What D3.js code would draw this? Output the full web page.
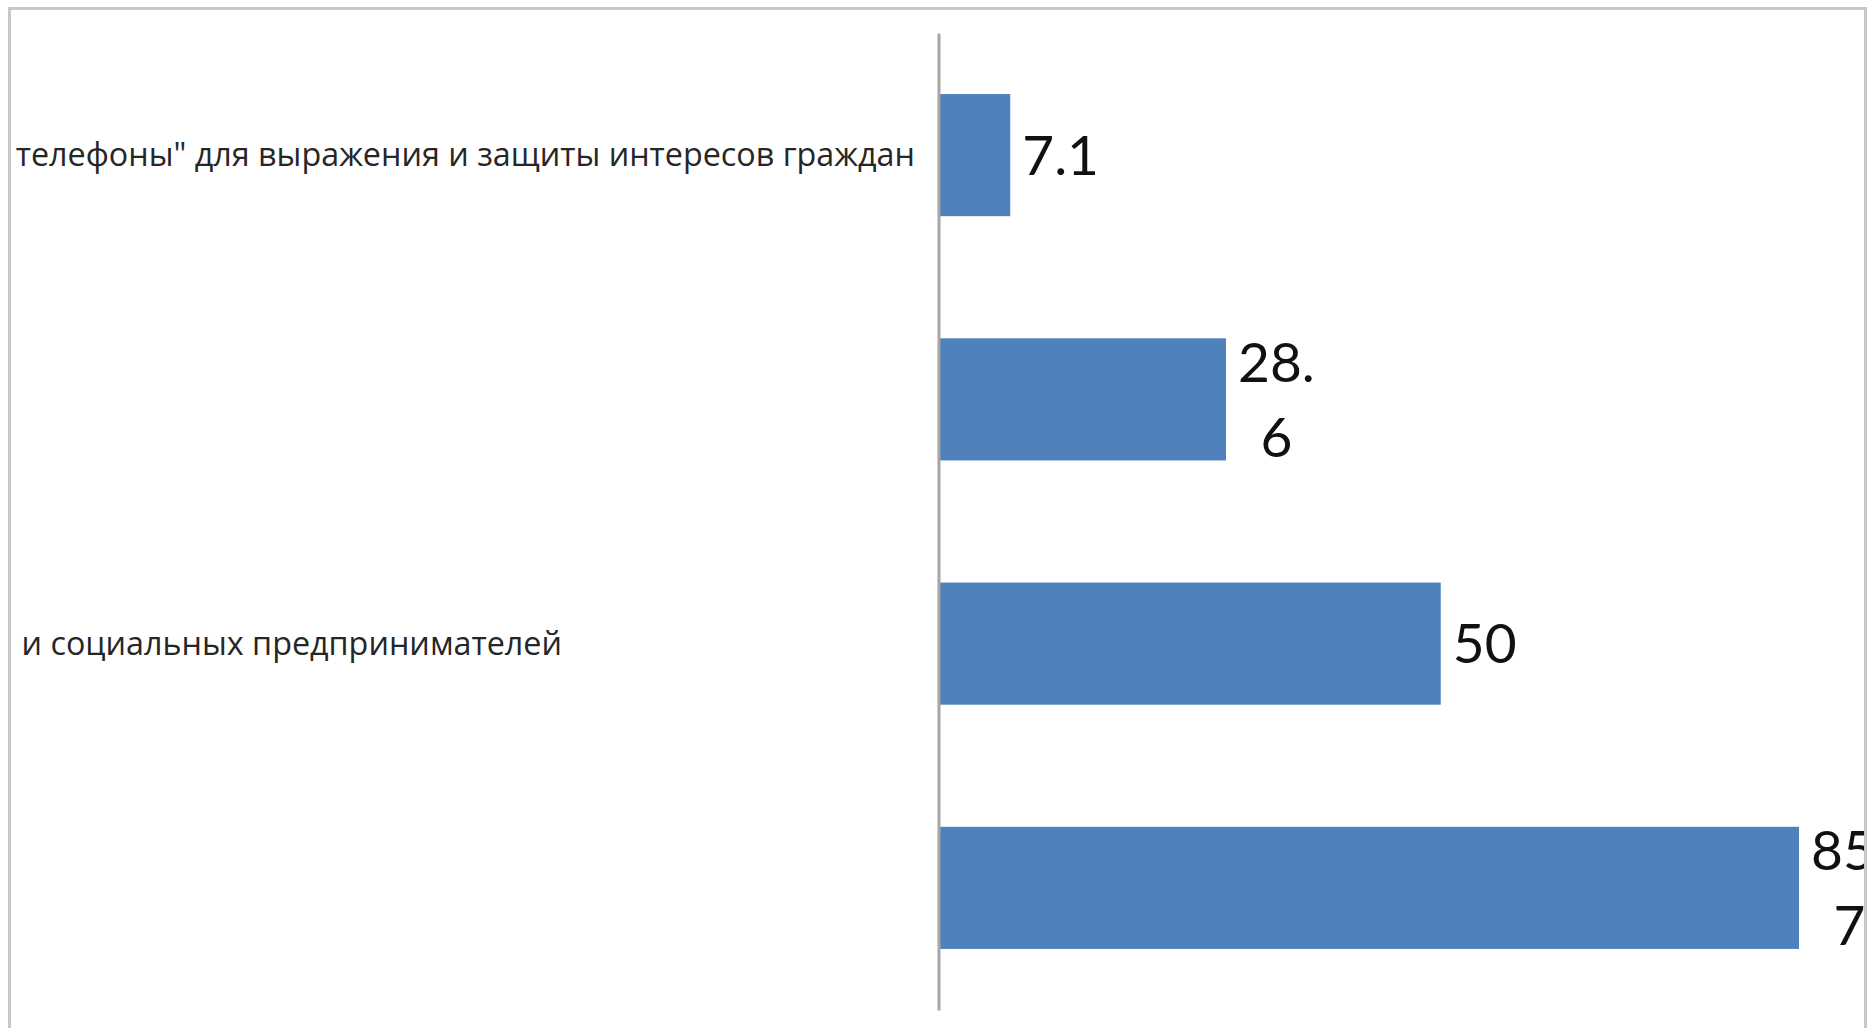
<!DOCTYPE html>
<html>
<head>
<meta charset="utf-8">
<script src="https://cdn.jsdelivr.net/npm/d3@7"></script>
<style>
  html, body { margin: 0; padding: 0; background: #fff; }
  svg { display: block; }
</style>
</head>
<body>
<svg id="chart" width="1868" height="1028"></svg>
<script>
// ---- data ----
const categories = [
  'телефоны" для выражения и защиты интересов граждан',
  '',
  'и социальных предпринимателей',
  ''
];
const values = [7.1, 28.6, 50, 85.7];
// data labels as shown (Excel wrapped them to a narrow box)
const valueLabels = [["7.1"], ["28.", "6"], ["50"], ["85.", "7"]];

// ---- layout ----
const W = 1868, H = 1028;
const svg = d3.select("#chart");

const frame = { x: 9.5, y: 8.5, w: 1856, h: 1100 };
const plot = { left: 939, top: 33, bottom: 1010, unit: 10.035 };

svg.append("defs").append("clipPath").attr("id", "clip")
  .append("rect").attr("x", 11).attr("y", 10).attr("width", 1853).attr("height", H);

const x = d3.scaleLinear().domain([0, 100]).range([plot.left, plot.left + 100 * plot.unit]);
const y = d3.scaleBand().domain(d3.range(values.length))
  .range([plot.top, plot.bottom]).paddingInner(0.5).paddingOuter(0.25);

const g = svg.append("g").attr("clip-path", "url(#clip)");

// bars
g.selectAll("rect.bar").data(values).join("rect")
  .attr("class", "bar")
  .attr("x", x(0))
  .attr("y", (d, i) => y(i))
  .attr("width", d => x(d) - x(0))
  .attr("height", y.bandwidth())
  .attr("fill", "#4f81bd");

// vertical category axis line
const axis = d3.axisLeft(y).tickSize(0).tickFormat("");
const axG = g.append("g").attr("transform", `translate(${plot.left - 0.5},0)`).call(axis);
axG.select(".domain").attr("stroke", "#a6a6a6").attr("stroke-width", 3);

// category labels (right-aligned end positions as in the reference)
const labelRight = [915, 915, 562, 915];
g.selectAll("text.cat").data(categories).join("text")
  .attr("class", "cat")
  .attr("x", (d, i) => labelRight[i])
  .attr("y", (d, i) => y(i) + y.bandwidth() / 2)
  .attr("dy", "0.35em")
  .attr("text-anchor", "end")
  .attr("font-family", "'Open Sans', sans-serif")
  .attr("font-size", 32.3)
  .attr("fill", "#262626")
  .text(d => d);

// value labels
const lineH = 75;
values.forEach((v, i) => {
  const lines = valueLabels[i];
  const cy = y(i) + y.bandwidth() / 2;
  const t = g.append("text")
    .attr("font-family", "Lato, 'Open Sans', sans-serif")
    .attr("font-size", 55)
    .attr("fill", "#111");
  const spans = lines.map((s, k) => t.append("tspan").text(s));
  const widths = spans.map(sp => sp.node().getComputedTextLength());
  const maxW = d3.max(widths);
  const cx = x(v) + 12 + maxW / 2;
  const n = lines.length;
  spans.forEach((sp, k) => {
    sp.attr("x", cx).attr("text-anchor", "middle")
      .attr("y", cy + (k - (n - 1) / 2) * lineH)
      .attr("dy", "0.36em");
  });
});

// chart frame
svg.append("rect")
  .attr("x", frame.x).attr("y", frame.y)
  .attr("width", frame.w).attr("height", frame.h)
  .attr("fill", "none").attr("stroke", "#c8c8c8").attr("stroke-width", 3);
</script>
</body>
</html>
